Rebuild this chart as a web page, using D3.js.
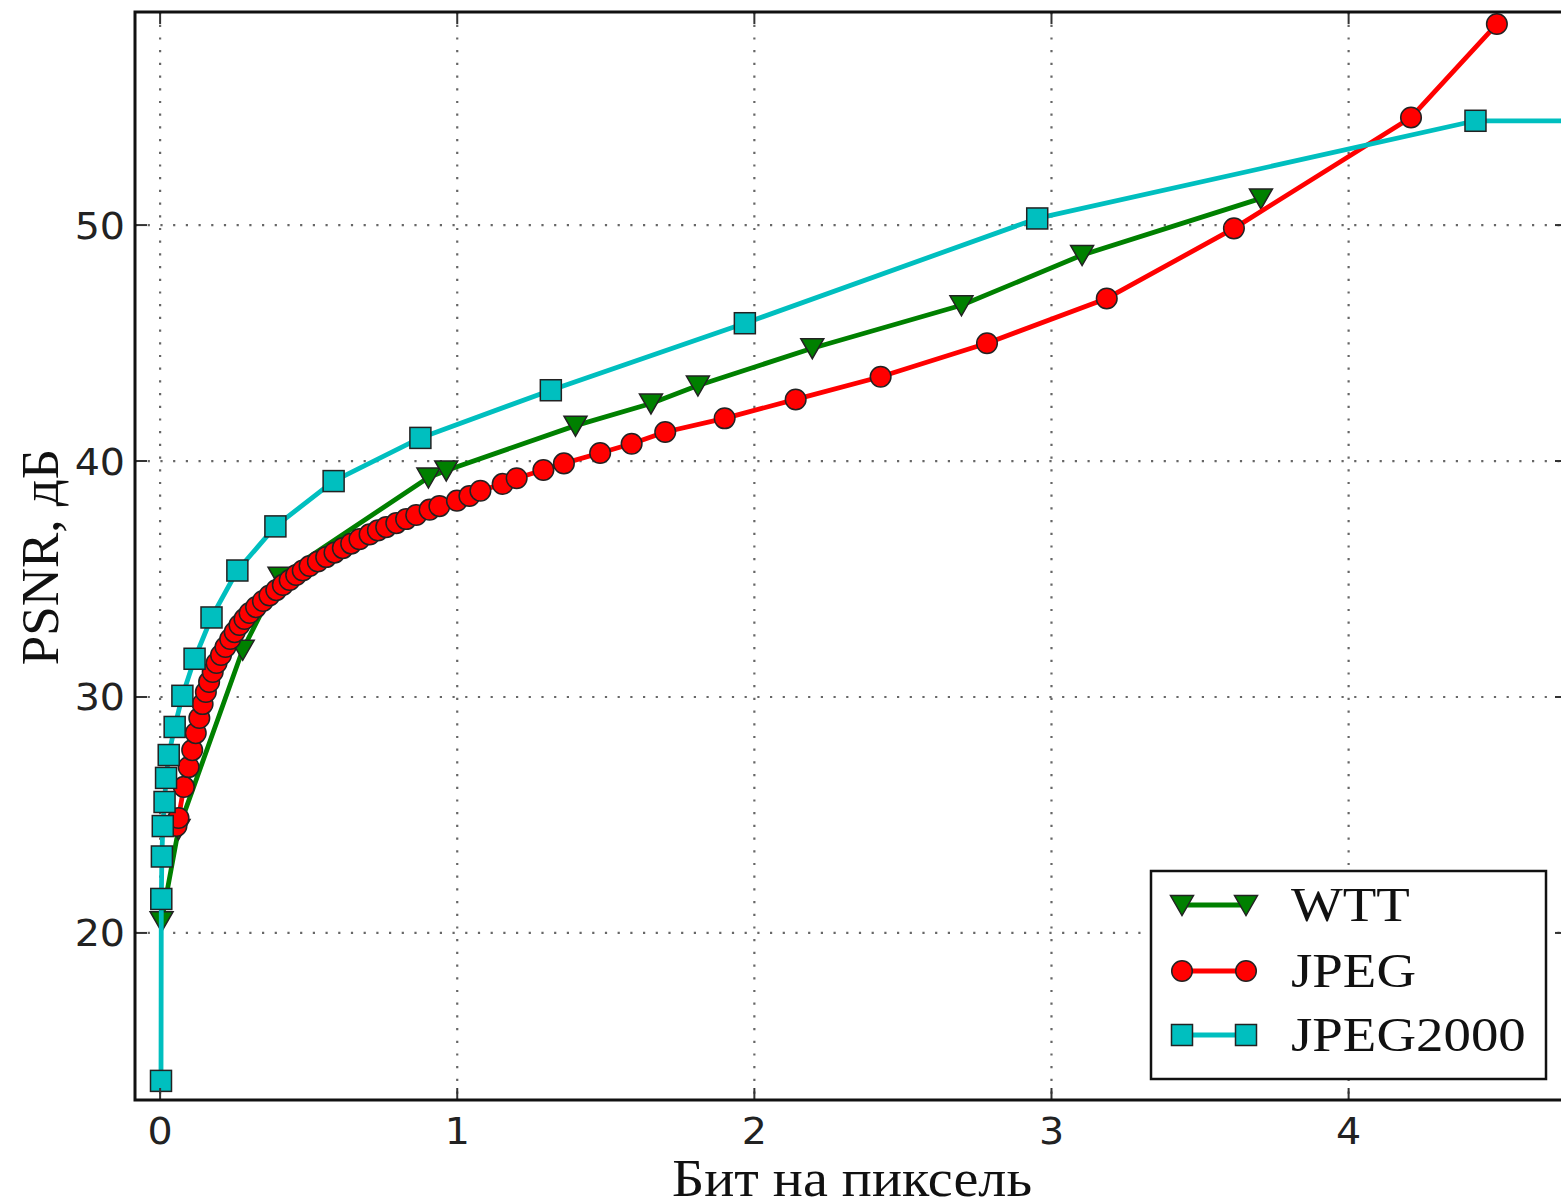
<!DOCTYPE html>
<html><head><meta charset="utf-8">
<script src="https://cdn.jsdelivr.net/npm/d3@7"></script>
<style>body{margin:0;background:#fff;overflow:hidden} svg{display:block}</style>
</head><body>
<svg id="chart" width="1561" height="1204"></svg>
<script>
// ---- data ----
const xTicks = [0, 1, 2, 3, 4];
const yTicks = [20, 30, 40, 50];
const seriesNames = ["WTT", "JPEG", "JPEG2000"];
const xLabel = "Бит на пиксель";
const yLabel = "PSNR, дБ";

const wttX = [0.005, 0.062, 0.278, 0.402, 0.903, 0.963, 1.398, 1.652, 1.81, 2.195, 2.697, 3.103, 3.705];
const wttY = [20.5, 24.4, 32.0, 35.1, 39.3, 39.6, 41.5, 42.44, 43.2, 44.78, 46.6, 48.73, 51.13];

const jpegX = [0.055, 0.062, 0.080, 0.096, 0.108, 0.120, 0.132, 0.143, 0.154, 0.165, 0.177, 0.190, 0.205, 0.220, 0.236, 0.251, 0.267, 0.284, 0.301, 0.323, 0.346, 0.368, 0.391, 0.413, 0.436, 0.458, 0.480, 0.503, 0.531, 0.559, 0.587, 0.615, 0.643, 0.671, 0.705, 0.733, 0.761, 0.795, 0.828, 0.862, 0.907, 0.940, 0.999, 1.041, 1.078, 1.153, 1.200, 1.290, 1.359, 1.481, 1.587, 1.700, 1.900, 2.139, 2.425, 2.783, 3.186, 3.614, 4.210, 4.499];
const jpegY = [24.53, 24.87, 26.19, 27.03, 27.75, 28.47, 29.11, 29.70, 30.21, 30.64, 31.06, 31.44, 31.78, 32.12, 32.46, 32.75, 33.05, 33.31, 33.56, 33.81, 34.07, 34.30, 34.53, 34.75, 34.96, 35.17, 35.36, 35.55, 35.74, 35.93, 36.12, 36.31, 36.50, 36.69, 36.89, 37.06, 37.20, 37.37, 37.54, 37.71, 37.94, 38.09, 38.32, 38.52, 38.74, 39.03, 39.27, 39.62, 39.90, 40.34, 40.73, 41.23, 41.81, 42.61, 43.57, 44.99, 46.89, 49.86, 54.56, 58.52];

const j2kX = [0.003, 0.004, 0.006, 0.009, 0.015, 0.020, 0.029, 0.049, 0.075, 0.116, 0.173, 0.260, 0.388, 0.584, 0.876, 1.315, 1.968, 2.952, 4.427, 5.0];
const j2kY = [13.73, 21.44, 23.24, 24.53, 25.55, 26.57, 27.54, 28.73, 30.05, 31.62, 33.37, 35.36, 37.23, 39.15, 40.98, 43.0, 45.84, 50.28, 54.42, 54.42];

// ---- layout ----
const L = 135, R = 1567, T = 12, B = 1100;
const x = d3.scaleLinear().domain([-0.0845, 4.735]).range([L, R]);
const y = d3.scaleLinear().domain([12.92, 59.03]).range([B, T]);

const svg = d3.select("#chart");
svg.append("rect").attr("width", 1561).attr("height", 1204).attr("fill", "#fff");

svg.append("defs").append("clipPath").attr("id", "clip")
  .append("rect").attr("x", L).attr("y", T).attr("width", R - L).attr("height", B - T);

// helper: text with slight horizontal stretch
function stretchedText(parent, tx, ty, sx, anchor, family, size, str) {
  return parent.append("text")
    .attr("transform", `translate(${tx},${ty}) scale(${sx},1)`)
    .attr("text-anchor", anchor).attr("font-family", family).attr("font-size", size)
    .attr("fill", "#111").text(str);
}

// grid
const grid = svg.append("g").attr("clip-path", "url(#clip)");
grid.selectAll(".gx").data(xTicks).join("line")
  .attr("x1", d => x(d)).attr("x2", d => x(d)).attr("y1", T).attr("y2", B)
  .attr("stroke", "#666").attr("stroke-width", 2.2).attr("stroke-dasharray", "2.2,10.5");
grid.selectAll(".gy").data(yTicks).join("line")
  .attr("y1", d => y(d)).attr("y2", d => y(d)).attr("x1", L).attr("x2", R)
  .attr("stroke", "#666").attr("stroke-width", 2.2).attr("stroke-dasharray", "2.2,10.5");

// series
const series = [
  {name: seriesNames[0], xs: wttX, ys: wttY, color: "#008000", marker: "tri"},
  {name: seriesNames[1], xs: jpegX, ys: jpegY, color: "#ff0000", marker: "circle"},
  {name: seriesNames[2], xs: j2kX, ys: j2kY, color: "#00bfbf", marker: "square"}
];

function drawMarker(g, type, color) {
  if (type === "circle") {
    g.append("circle").attr("r", 10.3).attr("fill", color).attr("stroke", "#222").attr("stroke-width", 1.5);
  } else if (type === "square") {
    g.append("rect").attr("x", -10.5).attr("y", -10.5).attr("width", 21).attr("height", 21)
      .attr("fill", color).attr("stroke", "#222").attr("stroke-width", 1.5);
  } else {
    g.append("path").attr("d", "M-11.5,-9.5L11.5,-9.5L0,10.5Z")
      .attr("fill", color).attr("stroke", "#222").attr("stroke-width", 1.5);
  }
}

const plot = svg.append("g").attr("clip-path", "url(#clip)");
const line = d3.line().x(d => x(d[0])).y(d => y(d[1]));
series.forEach(s => {
  const pts = s.xs.map((v, i) => [v, s.ys[i]]);
  plot.append("path").datum(pts).attr("d", line)
    .attr("fill", "none").attr("stroke", s.color).attr("stroke-width", 4.8)
    .attr("stroke-linejoin", "round");
  pts.forEach(p => {
    const g = plot.append("g").attr("transform", `translate(${x(p[0])},${y(p[1])})`);
    drawMarker(g, s.marker, s.color);
  });
});

// axes ticks (inward)
const tickLen = 12;
const axes = svg.append("g");
xTicks.forEach(t => {
  axes.append("line").attr("x1", x(t)).attr("x2", x(t)).attr("y1", B).attr("y2", B - tickLen).attr("stroke", "#333").attr("stroke-width", 2);
  axes.append("line").attr("x1", x(t)).attr("x2", x(t)).attr("y1", T).attr("y2", T + tickLen).attr("stroke", "#333").attr("stroke-width", 2);
  stretchedText(axes, x(t), 1144, 1.07, "middle", "DejaVu Sans", 37, t).attr("fill", "#222");
});
yTicks.forEach(t => {
  axes.append("line").attr("x1", L).attr("x2", L + tickLen).attr("y1", y(t)).attr("y2", y(t)).attr("stroke", "#333").attr("stroke-width", 2);
  axes.append("line").attr("x1", R).attr("x2", R - tickLen).attr("y1", y(t)).attr("y2", y(t)).attr("stroke", "#333").attr("stroke-width", 2);
  stretchedText(axes, 125, y(t) + 13.5, 1.07, "end", "DejaVu Sans", 37, t).attr("fill", "#222");
});

// frame
svg.append("rect").attr("x", L).attr("y", T).attr("width", R - L).attr("height", B - T)
  .attr("fill", "none").attr("stroke", "#111").attr("stroke-width", 3);

// axis labels
stretchedText(svg, 852, 1196, 1.08, "middle", "Liberation Serif", 52, xLabel);
svg.append("text").attr("transform", "translate(58,557) rotate(-90)").attr("text-anchor", "middle")
  .attr("font-family", "Liberation Serif").attr("font-size", 53).attr("fill", "#111").text(yLabel);

// legend
const lg = svg.append("g");
lg.append("rect").attr("x", 1151).attr("y", 871).attr("width", 395).attr("height", 208)
  .attr("fill", "#fff").attr("stroke", "#111").attr("stroke-width", 2.5);
const rowsY = [905, 971, 1035];
series.forEach((s, i) => {
  const cy = rowsY[i];
  lg.append("line").attr("x1", 1182).attr("x2", 1246).attr("y1", cy).attr("y2", cy)
    .attr("stroke", s.color).attr("stroke-width", 4.8);
  [1182, 1246].forEach(mx => {
    const g = lg.append("g").attr("transform", `translate(${mx},${cy})`);
    drawMarker(g, s.marker, s.color);
  });
  stretchedText(lg, 1291, cy + 16, 1.12, "start", "Liberation Serif", 49, s.name);
});
</script>
</body></html>
